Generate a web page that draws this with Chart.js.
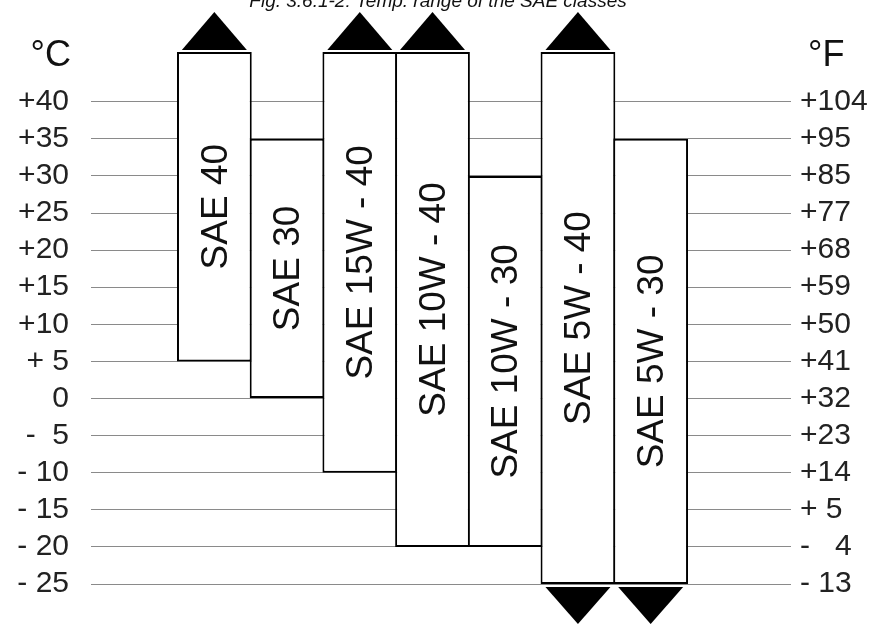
<!DOCTYPE html>
<html lang="en">
<head>
<meta charset="UTF-8">
<title>Temp. range of the SAE classes</title>
<style>
  body { margin: 0; background: #fff; }
  .wrap { position: relative; width: 876px; height: 624px; }
</style>
<script src="https://cdn.jsdelivr.net/npm/chart.js@4.4.0/dist/chart.umd.min.js"></script>
</head>
<body>
<div class="wrap">
  <canvas id="saeChart"></canvas>
</div>
<script>
// data
var title = 'Fig. 3.6.1-2: Temp. range of the SAE classes';
var classes = ['SAE 40', 'SAE 30', 'SAE 15W - 40', 'SAE 10W - 40', 'SAE 10W - 30', 'SAE 5W - 40', 'SAE 5W - 30'];
var lowC  = [5, 0, -10, -20, -20, -25, -25];
var highC = [null, 35, null, null, 30, null, 35];   // null = open upwards (arrow)
var openDown = [false, false, false, false, false, true, true];
var tickC = [40, 35, 30, 25, 20, 15, 10, 5, 0, -5, -10, -15, -20, -25];
var labelsC = ['+40', '+35', '+30', '+25', '+20', '+15', '+10', '+ 5', '0', '-  5', '- 10', '- 15', '- 20', '- 25'];
var labelsF = ['+104', '+95', '+85', '+77', '+68', '+59', '+50', '+41', '+32', '+23', '+14', '+ 5', '-   4', '- 13'];

var yMin = -25, yMax = 46.7;
var FONT = '"Liberation Sans", Arial, sans-serif';

var barData = classes.map(function (c, i) {
  return { x: i, y: [lowC[i], highC[i] === null ? yMax : highC[i]] };
});

function tickLabel(list) {
  return function (value) {
    var i = tickC.indexOf(value);
    return i < 0 ? '' : list[i];
  };
}

// box labels, arrows, unit labels and title
var decorations = {
  id: 'decorations',
  afterDatasetsDraw: function (chart) {
    var ctx = chart.ctx;
    var bars = chart.getDatasetMeta(0).data;
    ctx.save();
    ctx.fillStyle = '#000';
    bars.forEach(function (bar, i) {
      var w = 65;
      if (highC[i] === null) {
        ctx.beginPath();
        ctx.moveTo(bar.x - w / 2, bar.y - 2);
        ctx.lineTo(bar.x + w / 2, bar.y - 2);
        ctx.lineTo(bar.x, bar.y - 40);
        ctx.closePath();
        ctx.fill();
      }
      if (openDown[i]) {
        ctx.beginPath();
        ctx.moveTo(bar.x - w / 2, bar.base + 3);
        ctx.lineTo(bar.x + w / 2, bar.base + 3);
        ctx.lineTo(bar.x, bar.base + 40);
        ctx.closePath();
        ctx.fill();
      }
      ctx.save();
      ctx.translate(bar.x + 2, (bar.y + bar.base) / 2);
      ctx.rotate(-Math.PI / 2);
      ctx.font = '37px ' + FONT;
      ctx.textAlign = 'center';
      ctx.textBaseline = 'middle';
      ctx.fillStyle = '#111';
      ctx.fillText(classes[i], 0, 0);
      ctx.restore();
    });

    ctx.fillStyle = '#111';
    ctx.font = '36px ' + FONT;
    ctx.textBaseline = 'alphabetic';
    ctx.textAlign = 'right';
    ctx.fillText('\u00B0C', 71, 66);
    ctx.textAlign = 'left';
    ctx.fillText('\u00B0F', 808, 66);

    ctx.font = 'italic 19px ' + FONT;
    ctx.textAlign = 'center';
    ctx.fillText(title, 438, 7);
    ctx.restore();
  }
};

var ctx = document.getElementById('saeChart').getContext('2d');
var chart = new Chart(ctx, {
  type: 'bar',
  data: {
    datasets: [{
      data: barData,
      backgroundColor: '#fff',
      borderColor: '#000',
      borderWidth: 2,
      borderSkipped: false,
      barPercentage: 1.028,
      categoryPercentage: 1
    }]
  },
  options: {
    responsive: true,
    maintainAspectRatio: false,
    animation: false,
    layout: { padding: { top: 52, bottom: 37, left: 0, right: 0 } },
    plugins: { legend: { display: false }, tooltip: { enabled: false }, title: { display: false } },
    scales: {
      x: {
        type: 'linear', display: false, offset: false, min: -1.6965, max: 7.93,
        afterBuildTicks: function (s) { s.ticks = classes.map(function (c, i) { return { value: i }; }); }
      },
      y: {
        position: 'left',
        min: yMin, max: yMax,
        afterBuildTicks: function (s) { s.ticks = tickC.map(function (v) { return { value: v }; }); },
        afterFit: function (s) { s.width = 91; },
        grid: { color: '#8a8a8a', lineWidth: 1, drawTicks: false },
        border: { display: false },
        ticks: { callback: tickLabel(labelsC), padding: 22, color: '#222', font: { family: FONT, size: 30 } }
      },
      y2: {
        position: 'right',
        min: yMin, max: yMax,
        afterBuildTicks: function (s) { s.ticks = tickC.map(function (v) { return { value: v }; }); },
        afterFit: function (s) { s.width = 85; },
        grid: { display: false, drawTicks: false },
        border: { display: false },
        ticks: { callback: tickLabel(labelsF), padding: 9, color: '#222', font: { family: FONT, size: 30 } }
      }
    }
  },
  plugins: [decorations]
});
</script>
</body>
</html>
